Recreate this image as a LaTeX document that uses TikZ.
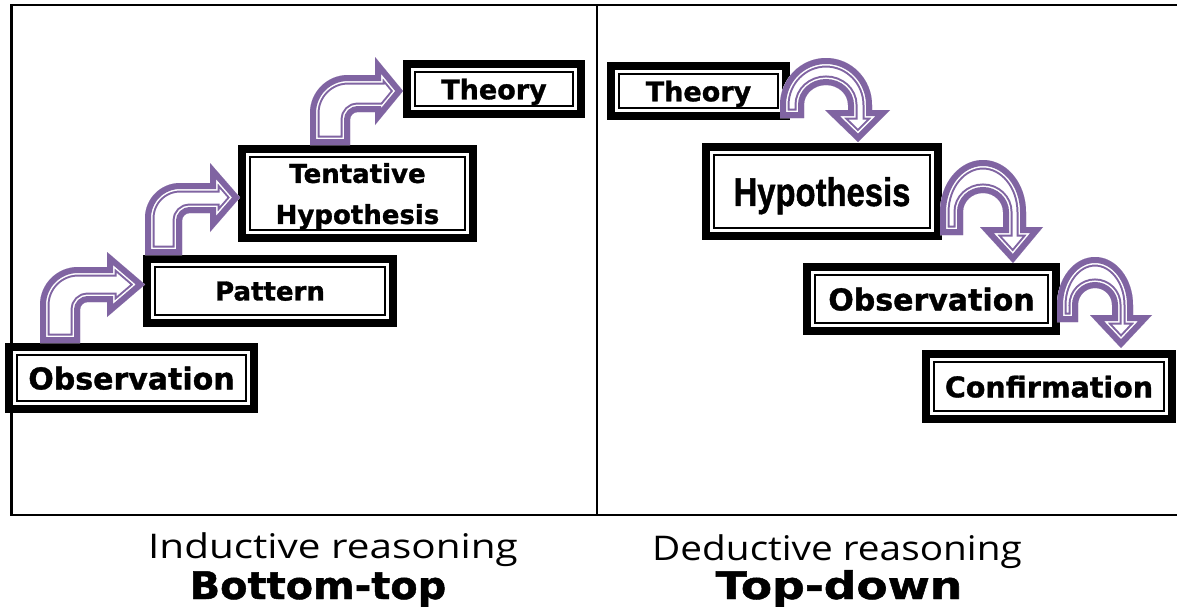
\documentclass[tikz,border=0pt]{standalone}
\usepackage{graphicx}
\usepackage{fontspec}
\setmainfont{DejaVu Sans}
\newfontfamily\heavy{DejaVu Sans}[FakeBold=1.2]
\newfontfamily\hypfont{Liberation Sans}[FakeBold=1.2]
\newfontfamily\capfont{Open Sans}
\usetikzlibrary{calc}
\definecolor{arrowpurple}{RGB}{128,100,162}
\newcommand\fs[1]{\fontsize{#1}{#1}\selectfont}
\newcommand\purplearrow[1]{%
  \fill[white] #1;
  \begin{scope}
    \clip #1;
    \draw[arrowpurple, line width=19pt, line join=miter] #1;
    \draw[white, line width=15pt, line join=miter] #1;
    \draw[arrowpurple, line width=12pt, line join=miter] #1;
  \end{scope}}
\newcommand\innerframe[1]{%
  \draw[innerline] ($(#1.north west)+(12,-12)$) rectangle ($(#1.south east)+(-12,12)$);}
\tikzset{
  stepbox/.style={draw=black, line width=8pt, fill=white, inner sep=0pt, text depth=0pt},
  innerline/.style={draw=black, line width=1.6pt},
  framebar/.style={draw=black, line width=2.5pt},
}
\begin{document}
\begin{tikzpicture}[x=1pt,y=1pt]
\useasboundingbox (0,0) rectangle (1177,-606);
\fill[white] (0,0) rectangle (1177,-606);
% frame
\draw[framebar] (1185,-5) -- (11.5,-5) -- (11.5,-515) -- (1185,-515);
\draw[draw=black, line width=2pt] (597,-5) -- (597,-515);

% boxes
\node[stepbox, minimum width=245pt, minimum height=62pt, font=\heavy\bfseries\fs{30}] (obsL) at (131.5,-378) {Observation};
\node[stepbox, minimum width=246pt, minimum height=64pt, font=\heavy\bfseries\fs{26}] (pat) at (270,-291) {Pattern};
\node[stepbox, minimum width=231pt, minimum height=89pt, align=center, font=\heavy\bfseries\fontsize{26}{41}\selectfont] (tent) at (357.5,-193.5) {Tentative\\Hypothesis};
\node[stepbox, minimum width=174pt, minimum height=50pt, font=\heavy\bfseries\fs{27}] (thL) at (494,-89) {Theory};

\node[stepbox, minimum width=175pt, minimum height=50pt, font=\heavy\bfseries\fs{27}] (thR) at (698.5,-91) {Theory};
\node[stepbox, minimum width=232pt, minimum height=89pt, font=\hypfont\bfseries\fs{40}] (hyp) at (822,-191.5) {\scalebox{0.82}[1]{Hypothesis}};
\node[stepbox, minimum width=249pt, minimum height=64pt, font=\heavy\bfseries\fs{30}] (obsR) at (931.5,-299) {Observation};
\node[stepbox, minimum width=246pt, minimum height=65pt, font=\heavy\bfseries\fs{28.5}] (conf) at (1049,-386.5) {Confirmation};

\innerframe{obsL}
\innerframe{pat}
\innerframe{tent}
\innerframe{thL}
\innerframe{thR}
\innerframe{hyp}
\innerframe{obsR}
\innerframe{conf}

% inductive arrows
\purplearrow{(40,-343) -- (40,-305) arc[start angle=180,end angle=90,radius=38] -- (107,-267) -- (107,-252) -- (145,-284.5) -- (107,-317) -- (107,-302) -- (88,-302) arc[start angle=90,end angle=180,radius=8] -- (80,-343) -- cycle}
\purplearrow{(145,-255) -- (145,-218) arc[start angle=180,end angle=90,radius=35] -- (210,-183) -- (210,-163) -- (240,-197.5) -- (210,-232) -- (210,-213) -- (190,-213) arc[start angle=90,end angle=180,radius=8] -- (182,-255) -- cycle}
\purplearrow{(310,-145) -- (310,-113) arc[start angle=180,end angle=90,radius=38] -- (375,-75) -- (375,-57) -- (403,-91) -- (375,-125) -- (375,-112) -- (358,-112) arc[start angle=90,end angle=180,radius=8] -- (350,-145) -- cycle}

% deductive arrows
\purplearrow{(780,-118) -- (780,-105) arc[start angle=180,end angle=0,x radius=46,y radius=47] -- (872,-110) -- (890,-110) -- (858,-142) -- (825,-110) -- (848,-110) -- (848,-105) arc[start angle=0,end angle=180,x radius=22,y radius=20] -- (804,-118) -- cycle}
\purplearrow{(940,-235) -- (940,-212) arc[start angle=180,end angle=0,x radius=43,y radius=52] -- (1026,-227) -- (1043,-227) -- (1013,-263) -- (980,-227) -- (1003,-227) -- (1003,-212) arc[start angle=0,end angle=180,x radius=20,y radius=19] -- (963,-235) -- cycle}
\purplearrow{(1057,-322) -- (1057,-305) arc[start angle=180,end angle=0,x radius=38,y radius=48] -- (1133,-315) -- (1152,-315) -- (1121,-348) -- (1090,-315) -- (1112,-315) -- (1112,-305) arc[start angle=0,end angle=180,x radius=17,y radius=17] -- (1078,-322) -- cycle}

% captions
\node[anchor=base, font=\capfont\fs{34}] (ind) at (333,-558) {\scalebox{1.19}[1]{Inductive reasoning}};
\node[anchor=base, font=\heavy\bfseries\fs{38}] (bt) at (318,-599) {\scalebox{1.05}[1]{Bottom-top}};
\node[anchor=base, font=\capfont\fs{34}] (ded) at (837,-560) {\scalebox{1.14}[1]{Deductive reasoning}};
\node[anchor=base, font=\heavy\bfseries\fs{38}] (td) at (839,-599) {\scalebox{1.2}[1]{Top-down}};
\end{tikzpicture}
\end{document}
